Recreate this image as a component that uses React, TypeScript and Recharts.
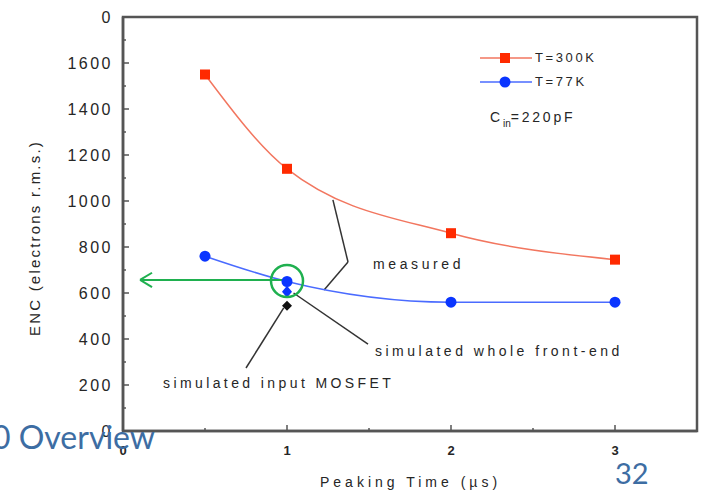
import React from "react";
import { LineChart, Line, XAxis, YAxis, ReferenceLine, ReferenceArea, ReferenceDot } from "recharts";

// peaking time (µs) and ENC (electrons r.m.s.)
const PEAK_T = [0.5, 1, 2, 3];
const ENC_300K = [1550, 1140, 860, 745];
const ENC_77K = [760, 650, 560, 560];
const SIM_T = [1];
const SIM_FRONT_END = [605];
const SIM_MOSFET = [545];

const X_TICKS = [0, 0.5, 1, 1.5, 2, 2.5, 3];
const Y_TICKS = [0, 100, 200, 300, 400, 500, 600, 700, 800, 900, 1000, 1100, 1200, 1300, 1400, 1500, 1600, 1700, 1800];

const warm = PEAK_T.map((t, i) => ({ t, enc: ENC_300K[i] }));
const cold = PEAK_T.map((t, i) => ({ t, enc: ENC_77K[i] }));
const simFront = SIM_T.map((t, i) => ({ t, enc: SIM_FRONT_END[i] }));
const simMos = SIM_T.map((t, i) => ({ t, enc: SIM_MOSFET[i] }));

const AXIS = "#555";
const TXT = "#262626";
const GREEN = "#1fb04f";
const SLIDE_BLUE = "#3d6da3";

const tickFont = { fontFamily: "Liberation Sans, Arial, sans-serif", fontSize: 16, letterSpacing: 2.5, fill: TXT };

function YTick(props: any) {
  const { x, y, payload } = props;
  const major = payload.value % 200 === 0;
  // the top label is clipped in the original scan, only its last digit shows
  const label = payload.value === 1800 ? "0" : String(payload.value);
  return (
    <g>
      <line x1={x} x2={x + (major ? 6 : 3)} y1={y} y2={y} stroke={AXIS} strokeWidth={1.5} />
      {major && (
        <text x={x - 10} y={y + 6} textAnchor="end" {...tickFont}>
          {label}
        </text>
      )}
    </g>
  );
}

function XTick(props: any) {
  const { x, y, payload } = props;
  const major = Number.isInteger(payload.value);
  return (
    <g>
      <line x1={x} x2={x} y1={y} y2={y - (major ? 6 : 3)} stroke={AXIS} strokeWidth={1.5} />
      {major && (
        <text x={x} y={y + 24} textAnchor="middle" {...tickFont} fontSize={13} fontWeight={700} letterSpacing={0}>
          {payload.value}
        </text>
      )}
    </g>
  );
}

const squareDot = (p: any) => (
  <rect key={`s${p.index}`} x={p.cx - 5} y={p.cy - 5} width={10} height={10} fill="#ff2a00" />
);
const roundDot = (p: any) => <circle key={`c${p.index}`} cx={p.cx} cy={p.cy} r={5.5} fill="#0a35ff" />;
const smallBlue = (p: any) => (
  <path key={`b${p.index}`} d={`M${p.cx},${p.cy - 6} L${p.cx + 5},${p.cy} L${p.cx},${p.cy + 6} L${p.cx - 5},${p.cy} Z`} fill="#0a35ff" />
);
const blackDiamond = (p: any) => (
  <path key={`k${p.index}`} d={`M${p.cx},${p.cy - 5} L${p.cx + 5},${p.cy} L${p.cx},${p.cy + 5} L${p.cx - 5},${p.cy} Z`} fill="#111" />
);

const txt: React.CSSProperties = {
  position: "absolute",
  fontFamily: "Liberation Sans, Arial, sans-serif",
  color: TXT,
  whiteSpace: "nowrap",
  lineHeight: 1,
};

export default function App() {
  return (
    <div style={{ position: "absolute", left: 0, top: 0, width: 706, height: 491, background: "#fff", overflow: "hidden" }}>
      <LineChart width={706} height={491} margin={{ top: 17, right: 9, left: 0, bottom: 0 }}>
        <XAxis
          type="number"
          dataKey="t"
          domain={[0, 3.5]}
          ticks={X_TICKS}
          height={60}
          tickSize={0}
          tickMargin={0}
          tick={<XTick />}
          axisLine={{ stroke: AXIS, strokeWidth: 2.5 }}
          allowDataOverflow
        />
        <YAxis
          type="number"
          domain={[0, 1800]}
          ticks={Y_TICKS}
          width={123}
          tickSize={0}
          tickMargin={0}
          tick={<YTick />}
          interval={0}
          axisLine={{ stroke: AXIS, strokeWidth: 2.5 }}
          allowDataOverflow
        />
        <ReferenceArea x1={0} x2={3.5} y1={0} y2={1800} fill="none" stroke={AXIS} strokeWidth={2.5} />

        {/* leader lines */}
        <ReferenceLine segment={[{ x: 1.28, y: 1005 }, { x: 1.372, y: 735 }]} stroke="#333" strokeWidth={1.5} />
        <ReferenceLine segment={[{ x: 1.372, y: 735 }, { x: 1.226, y: 613 }]} stroke="#333" strokeWidth={1.5} />
        <ReferenceLine segment={[{ x: 1.04, y: 600 }, { x: 1.494, y: 378 }]} stroke="#333" strokeWidth={1.5} />
        <ReferenceLine segment={[{ x: 0.98, y: 535 }, { x: 0.75, y: 274 }]} stroke="#333" strokeWidth={1.5} />

        <Line data={warm} dataKey="enc" type="monotone" stroke="#f2765f" strokeWidth={1.5} dot={squareDot} isAnimationActive={false} />
        <Line data={cold} dataKey="enc" type="monotone" stroke="#4a6bff" strokeWidth={1.5} dot={roundDot} isAnimationActive={false} />
        <Line data={simFront} dataKey="enc" stroke="none" dot={smallBlue} isAnimationActive={false} />
        <Line data={simMos} dataKey="enc" stroke="none" dot={blackDiamond} isAnimationActive={false} />

        {/* green highlight */}
        <ReferenceDot x={1} y={652} r={16} fill="none" stroke={GREEN} strokeWidth={2.5} />
        <ReferenceLine segment={[{ x: 0.98, y: 657 }, { x: 0.104, y: 657 }]} stroke={GREEN} strokeWidth={2} ifOverflow="visible" />
        <ReferenceLine segment={[{ x: 0.104, y: 657 }, { x: 0.177, y: 688 }]} stroke={GREEN} strokeWidth={2} ifOverflow="visible" />
        <ReferenceLine segment={[{ x: 0.104, y: 657 }, { x: 0.177, y: 626 }]} stroke={GREEN} strokeWidth={2} ifOverflow="visible" />
      </LineChart>

      {/* legend */}
      <svg style={{ position: "absolute", left: 478, top: 48 }} width={56} height={44}>
        <line x1={2} x2={54} y1={10} y2={10} stroke="#f2765f" strokeWidth={1.5} />
        <rect x={22} y={5} width={10} height={10} fill="#ff2a00" />
        <line x1={2} x2={54} y1={34} y2={34} stroke="#4a6bff" strokeWidth={1.5} />
        <circle cx={27} cy={34} r={5.5} fill="#0a35ff" />
      </svg>
      <div style={{ ...txt, left: 535, top: 51, fontSize: 13, letterSpacing: 2.6 }}>T=300K</div>
      <div style={{ ...txt, left: 535, top: 75, fontSize: 13, letterSpacing: 2.6 }}>T=77K</div>
      <div style={{ ...txt, left: 490, top: 110, fontSize: 14, letterSpacing: 2.8 }}>
        C<sub style={{ fontSize: 10, verticalAlign: -5, letterSpacing: 0 }}>in</sub>=220pF
      </div>

      {/* annotations */}
      <div style={{ ...txt, left: 373, top: 257, fontSize: 14, letterSpacing: 3.6 }}>measured</div>
      <div style={{ ...txt, left: 375, top: 344, fontSize: 14, letterSpacing: 3.5 }}>simulated whole front-end</div>
      <div style={{ ...txt, left: 163, top: 376, fontSize: 14, letterSpacing: 3.4 }}>simulated input MOSFET</div>

      {/* axis titles */}
      <div style={{ ...txt, left: 320, top: 475, fontSize: 14, letterSpacing: 4 }}>Peaking Time (µs)</div>
      <div
        style={{
          ...txt,
          left: 34,
          top: 238,
          fontSize: 15,
          letterSpacing: 2.2,
          transform: "translate(-50%, -50%) rotate(-90deg)",
        }}
      >
        ENC (electrons r.m.s.)
      </div>

      {/* slide overlay */}
      <div style={{ ...txt, left: -8, top: 421, fontFamily: "Lato, sans-serif", fontSize: 32, color: SLIDE_BLUE }}>0 Overview</div>
      <div style={{ ...txt, left: 615, top: 458, fontFamily: "Lato, sans-serif", fontSize: 29, color: SLIDE_BLUE }}>32</div>
    </div>
  );
}
